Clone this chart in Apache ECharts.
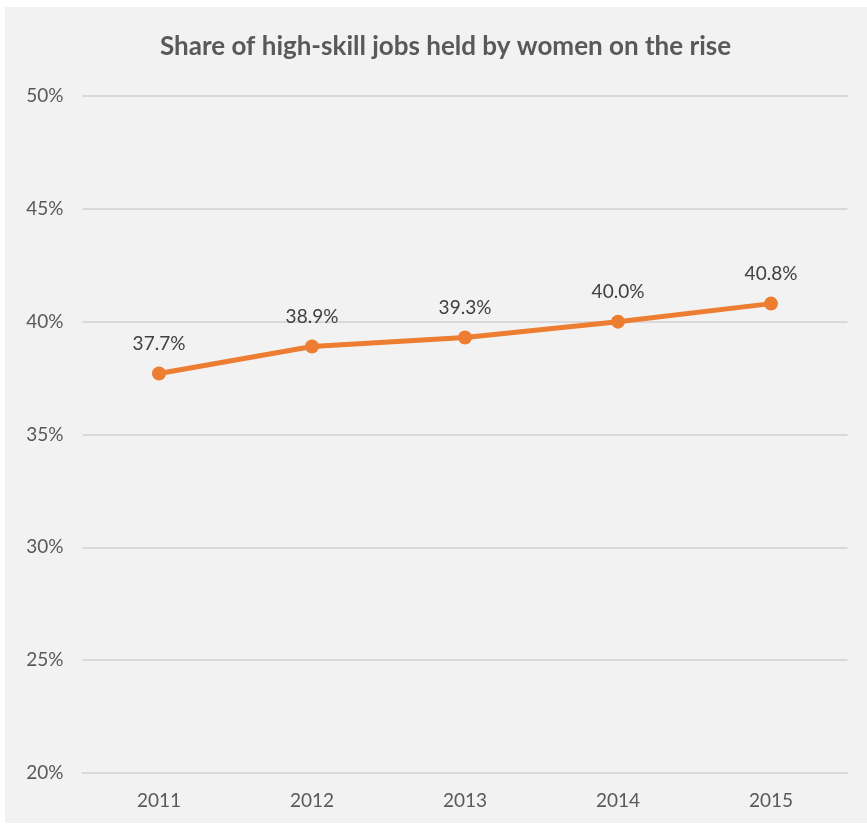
<!DOCTYPE html>
<html>
<head>
<meta charset="utf-8">
<script src="https://cdn.jsdelivr.net/npm/echarts@6/dist/echarts.min.js"></script>
<style>
  html, body { margin: 0; padding: 0; background: #ffffff; }
  #chart { position: absolute; left: 5px; top: 7px; width: 862px; height: 816px; background: #f2f2f2; }
</style>
</head>
<body>
<div id="chart"></div>
<script>
// Share of high-skill jobs held by women, by year (percent)
const years = ['2011', '2012', '2013', '2014', '2015'];
const womenShare = [37.7, 38.9, 39.3, 40.0, 40.8];
const yTicks = { min: 20, max: 50, step: 5 };

const chart = echarts.init(document.getElementById('chart'));
const fontFamily = 'Lato, "Open Sans", sans-serif';

chart.setOption({
  backgroundColor: '#f2f2f2',
  animation: false,
  title: {
    text: 'Share of high-skill jobs held by women on the rise',
    left: 150,
    top: 22,
    textStyle: { fontFamily, fontSize: 26, fontWeight: 'bold', color: '#595959' }
  },
  grid: { left: 77.5, top: 89, width: 765, height: 677, containLabel: false },
  xAxis: {
    type: 'category',
    data: years,
    boundaryGap: true,
    axisLine: { show: true, lineStyle: { color: '#d9d9d9', width: 2 } },
    axisTick: { show: false },
    axisLabel: { fontFamily, fontSize: 19, color: '#595959', margin: 18 }
  },
  yAxis: {
    type: 'value',
    min: yTicks.min,
    max: yTicks.max,
    interval: yTicks.step,
    axisLine: { show: false },
    axisTick: { show: false },
    splitLine: { lineStyle: { color: '#d9d9d9', width: 2 } },
    axisLabel: { fontFamily, fontSize: 19, color: '#595959', margin: 19, formatter: v => v + '%' }
  },
  series: [{
    type: 'line',
    data: womenShare,
    symbol: 'circle',
    symbolSize: 14,
    lineStyle: { color: '#ed7d31', width: 5 },
    itemStyle: { color: '#ed7d31' },
    label: {
      show: true,
      position: 'top',
      distance: 13,
      fontFamily,
      fontSize: 19,
      color: '#404040',
      formatter: p => p.value.toFixed(1) + '%'
    }
  }]
});
</script>
</body>
</html>
